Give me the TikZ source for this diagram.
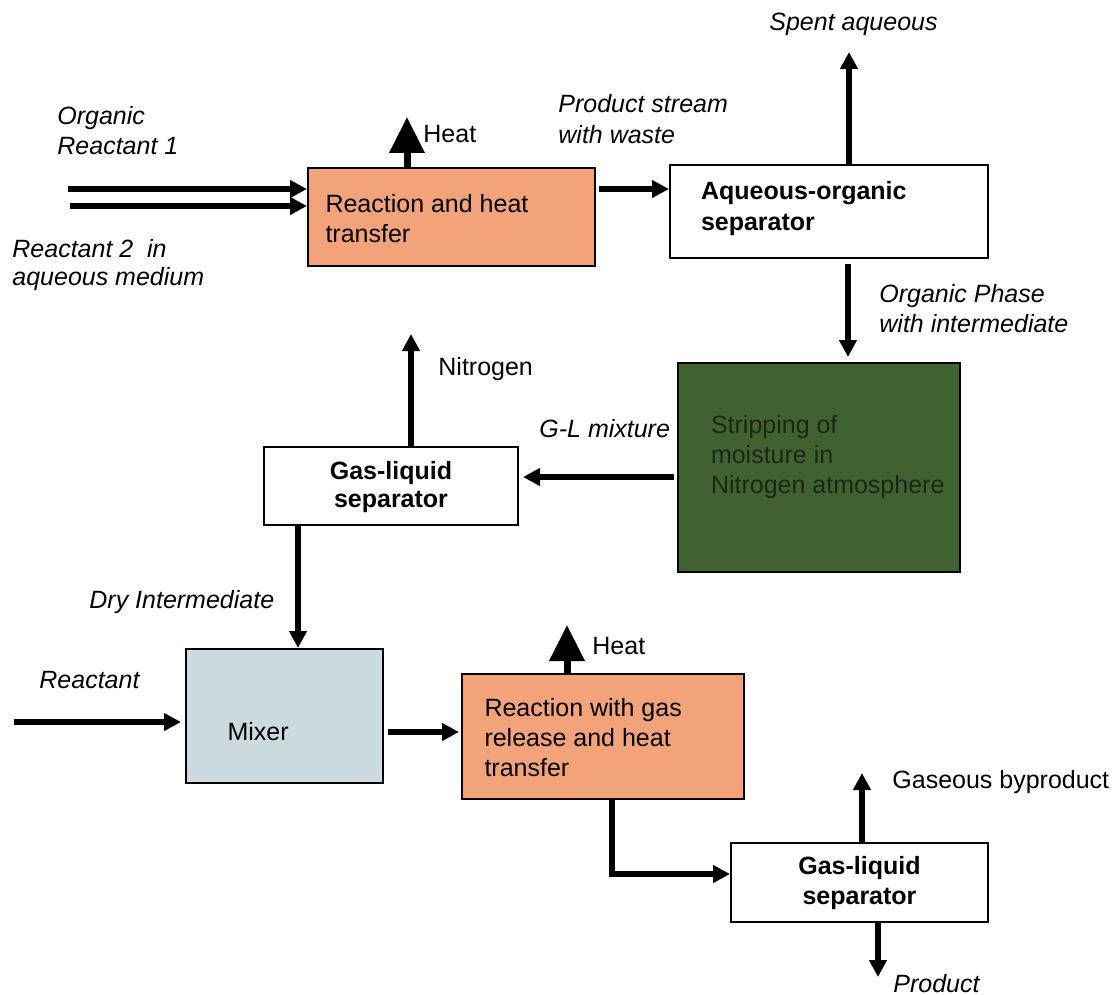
\documentclass[tikz,border=0pt]{standalone}
\usepackage{fontspec}
\setmainfont{Liberation Sans}
\usetikzlibrary{arrows.meta,calc}
\definecolor{salmon}{RGB}{243,163,122}
\definecolor{stripgreen}{RGB}{64,98,48}
\definecolor{mixblue}{RGB}{203,218,222}
\definecolor{greentext}{RGB}{28,38,22}
\newcommand{\mlines}[1]{\begin{tabular}[t]{@{}l@{}}#1\end{tabular}}
\begin{document}
\begin{tikzpicture}[x=0.5pt,y=-0.5pt,
  box/.style={draw=black, line width=1pt, inner sep=0pt, anchor=north west, text height=9pt},
  boxfont/.style={font=\fontsize{12.5}{15}\selectfont},
  lbl/.style={anchor=base west, inner sep=0pt, font=\fontsize{12.5}{15}\selectfont\itshape},
  plain/.style={anchor=base west, inner sep=0pt, font=\fontsize{12.5}{15}\selectfont},
  flow/.style={line width=2.75pt, -{Triangle[length=8.5pt,width=8.5pt]}},
  heatflow/.style={line width=3.5pt, -{Triangle[length=18pt,width=17pt]}}
]
\useasboundingbox (0,0) rectangle (1114,995);

% ---------- boxes ----------
\node[box, fill=salmon, minimum width=143.5pt, minimum height=49pt, text depth=13pt, boxfont]
  (B1) at (307,167) {\hspace*{8pt}\parbox[t]{134pt}{Reaction and heat\\transfer}};
\node[box, fill=white, minimum width=159pt, minimum height=46.5pt, text depth=21.5pt,
  font=\fontsize{12.5}{15.5}\selectfont\bfseries]
  (B2) at (669,164) {\hspace*{15pt}\parbox[t]{143pt}{Aqueous-organic\\separator}};
\node[box, fill=stripgreen, text=greentext, minimum width=141pt, minimum height=104.5pt, text depth=43.5pt, boxfont]
  (B3) at (677,362) {\hspace*{16pt}\parbox[t]{124pt}{Stripping of\\moisture in\\Nitrogen~atmosphere}};
\node[box, fill=white, minimum width=127pt, minimum height=39pt, text depth=16pt,
  font=\fontsize{12.5}{14}\selectfont\bfseries]
  (B4) at (263,446) {\parbox[t]{125pt}{\centering Gas-liquid\\separator}};
\node[box, fill=mixblue, minimum width=98.5pt, minimum height=67pt, text height=27pt, text depth=3pt, boxfont]
  (B5) at (185,648) {\hspace*{20pt}\parbox[t]{77pt}{Mixer}};
\node[box, fill=salmon, minimum width=141pt, minimum height=62.5pt, text depth=29.5pt, boxfont]
  (B6) at (461,673) {\hspace*{10.5pt}\parbox[t]{129pt}{Reaction with gas\\release and heat\\transfer}};
\node[box, fill=white, minimum width=128.5pt, minimum height=39.5pt, text depth=17.5pt,
  font=\fontsize{12.5}{15}\selectfont\bfseries]
  (B7) at (730,842) {\parbox[t]{126.5pt}{\centering Gas-liquid\\separator}};

% ---------- free ends / guide points ----------
\coordinate (in1) at (68,189);
\coordinate (in2) at (70,206);
\coordinate (heatA) at (407,117);
\coordinate (spent) at (849,52);
\coordinate (orgx) at (848,300);
\coordinate (gly) at (600,477);
\coordinate (nitro) at (411,334);
\coordinate (dryx) at (298,600);
\coordinate (react) at (14,722);
\coordinate (mixy) at (420,732);
\coordinate (heatB) at (567,625);
\coordinate (turn) at (612,874);
\coordinate (gas) at (862,773);
\coordinate (prod) at (878,977);

% ---------- connectors ----------
\draw[flow] (in1) -- (in1 -| B1.west);
\draw[flow] (in2) -- (in2 -| B1.west);
\draw[heatflow] (B1.north -| heatA) -- (heatA);
\draw[flow] ($(B1.east |- in1)+(3,0)$) -- (B2.west |- in1);
\draw[flow] (B2.north -| spent) -- (spent);
\draw[flow] ($(B2.south -| orgx)+(0,5)$) -- ($(B3.north -| orgx)+(0,-5)$);
\draw[flow] ($(B3.west |- gly)+(-3,0)$) -- ($(B4.east |- gly)+(4,0)$);
\draw[flow] (B4.north -| nitro) -- (nitro);
\draw[flow] (B4.south -| dryx) -- (B5.north -| dryx);
\draw[flow] (react) -- ($(B5.west |- react)+(-4,0)$);
\draw[flow] ($(B5.east |- mixy)+(4,0)$) -- ($(B6.west |- mixy)+(-2,0)$);
\draw[heatflow] (B6.north -| heatB) -- (heatB);
\draw[flow] (B6.south -| turn) -- (turn) -- (B7.west |- turn);
\draw[flow] (B7.north -| gas) -- (gas);
\draw[flow] (B7.south -| prod) -- (prod);

% ---------- labels ----------
\node[lbl] (L1) at (57,125) {\mlines{Organic\\Reactant 1}};
\node[lbl, font=\fontsize{12.5}{14}\selectfont\itshape] (L2) at (12,257) {\mlines{Reactant 2~ in\\aqueous medium}};
\node[lbl] (L3) at (558,113) {\mlines{Product stream\\with waste}};
\node[lbl] (L4) at (769,31) {Spent aqueous};
\node[lbl] (L5) at (879,302) {\mlines{Organic Phase\\with intermediate}};
\node[plain] (H1) at (423,142) {Heat};
\node[plain] (L6) at (438,375) {Nitrogen};
\node[lbl] (L7) at (539,437) {G-L mixture};
\node[lbl] (L8) at (89,608) {Dry Intermediate};
\node[lbl] (L9) at (39,688) {Reactant};
\node[plain] (H2) at (592,654) {Heat};
\node[plain] (L10) at (892,788) {Gaseous byproduct};
\node[lbl] (L11) at (893,992) {Product};
\end{tikzpicture}
\end{document}
